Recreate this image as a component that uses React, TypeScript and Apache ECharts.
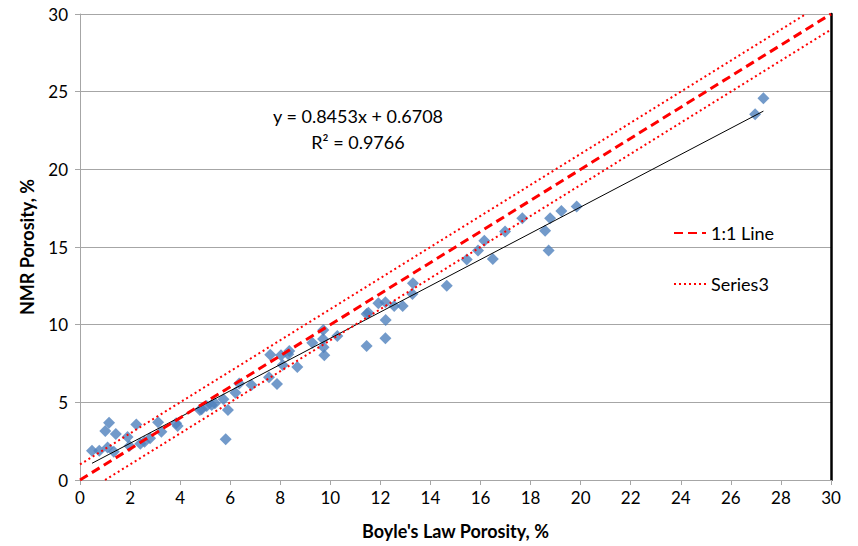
import React, { useEffect, useRef } from "react";
import * as echarts from "echarts";

const pointX = [0.48, 0.77, 1.16, 1.01, 1.1, 1.43, 1.35, 1.9, 1.98, 2.25, 2.41, 2.58, 2.8, 3.12, 3.25, 3.84, 3.9, 4.79, 4.86, 5.06, 5.26, 5.39, 5.73, 5.91, 5.82, 6.21, 6.36, 6.85, 7.55, 7.87, 7.6, 8.03, 8.1, 8.36, 8.32, 8.68, 9.28, 9.72, 9.71, 9.73, 9.76, 10.28, 11.45, 11.45, 11.52, 11.92, 12.2, 12.21, 12.2, 12.55, 12.89, 13.3, 13.28, 14.65, 15.45, 15.9, 16.15, 16.49, 16.98, 17.67, 18.58, 18.72, 18.78, 19.23, 19.84, 26.97, 27.3];
const pointY = [1.89, 1.89, 3.69, 3.15, 2.1, 2.96, 1.82, 2.77, 2.19, 3.58, 2.34, 2.47, 2.68, 3.71, 3.11, 3.65, 3.48, 4.5, 4.55, 4.76, 4.83, 4.94, 5.2, 4.5, 2.62, 5.62, 6.22, 6.12, 6.62, 6.18, 8.07, 8.03, 7.4, 8.31, 8.09, 7.28, 8.84, 9.66, 9.08, 8.54, 8.03, 9.27, 8.63, 10.69, 10.77, 11.38, 11.44, 10.3, 9.12, 11.2, 11.2, 12.67, 11.98, 12.5, 14.19, 14.77, 15.41, 14.23, 15.99, 16.85, 16.05, 14.77, 16.85, 17.32, 17.6, 23.55, 24.58];

const oneToOneX = [0, 30];
const oneToOneY = [0, 30];
const series3UpperX = [0, 29];
const series3UpperY = [1, 30];
const series3LowerX = [1, 30];
const series3LowerY = [0, 29];

const trendSlope = 0.8453;
const trendIntercept = 0.6708;
const trendRSquared = 0.9766;
const trendX = [0.48, 27.3];

const FONT = "Lato, 'Open Sans', sans-serif";

export default function App() {
  const ref = useRef<HTMLDivElement>(null);
  useEffect(() => {
    document.body.style.margin = "0";
    if (!ref.current) return;
    const chart = echarts.init(ref.current, null, { renderer: "svg" });
    const points = pointX.map((x, i) => [x, pointY[i]]);
    const trend = trendX.map((x) => [x, trendSlope * x + trendIntercept]);
    const s3 = [
      ...series3UpperX.map((x, i) => [x, series3UpperY[i]]),
      ["-", "-"],
      ...series3LowerX.map((x, i) => [x, series3LowerY[i]]),
    ];
    chart.setOption({
      animation: false,
      backgroundColor: "#ffffff",
      textStyle: { fontFamily: FONT },
      grid: { left: 80, right: 27, top: 14, bottom: 66 },
      legend: {
        orient: "vertical",
        left: 668,
        top: 219,
        itemGap: 33,
        itemWidth: 32,
        itemHeight: 18,
        itemStyle: { opacity: 0 },
        textStyle: { fontFamily: FONT, fontSize: 18, color: "#000" },
        data: ["1:1 Line", "Series3"],
      },
      xAxis: {
        type: "value",
        min: 0,
        max: 30,
        interval: 2,
        name: "Boyle's Law Porosity, %",
        nameLocation: "middle",
        nameGap: 42,
        nameTextStyle: { fontFamily: FONT, fontSize: 18, fontWeight: "bold", color: "#000" },
        axisLine: { show: true, lineStyle: { color: "#a6a6a6", width: 1 } },
        axisTick: { show: true, length: 5, lineStyle: { color: "#a6a6a6" } },
        axisLabel: { fontFamily: FONT, fontSize: 17, color: "#000", margin: 9 },
        splitLine: { show: false },
      },
      yAxis: [
        {
          type: "value",
          min: 0,
          max: 30,
          interval: 5,
          name: "NMR Porosity, %",
          nameLocation: "middle",
          nameGap: 44,
          nameTextStyle: { fontFamily: FONT, fontSize: 18, fontWeight: "bold", color: "#000" },
          axisLine: { show: true, lineStyle: { color: "#a6a6a6", width: 1 } },
          axisTick: { show: true, length: 5, lineStyle: { color: "#a6a6a6" } },
          axisLabel: { fontFamily: FONT, fontSize: 17, color: "#000", margin: 12 },
          splitLine: { show: true, lineStyle: { color: "#a6a6a6", width: 1 } },
        },
        {
          type: "value",
          min: 0,
          max: 30,
          position: "right",
          axisLine: { show: true, lineStyle: { color: "#000", width: 2.5 } },
          axisTick: { show: false },
          axisLabel: { show: false },
          splitLine: { show: false },
        },
      ],
      series: [
        {
          name: "Data",
          type: "scatter",
          symbol: "diamond",
          symbolSize: 12,
          itemStyle: { color: "#4F81BD" },
          data: points,
          z: 3,
        },
        {
          name: "Trend",
          type: "line",
          showSymbol: false,
          symbol: "none",
          lineStyle: { color: "#000", width: 1 },
          data: trend,
          z: 4,
        },
        {
          name: "1:1 Line",
          type: "line",
          symbol: "none",
          itemStyle: { color: "#ff0000" },
          lineStyle: { color: "#ff0000", width: 3, type: [9, 5] },
          data: oneToOneX.map((x, i) => [x, oneToOneY[i]]),
          z: 5,
        },
        {
          name: "Series3",
          type: "line",
          symbol: "none",
          connectNulls: false,
          itemStyle: { color: "#ff0000" },
          lineStyle: { color: "#ff0000", width: 2, type: [2, 3] },
          data: s3,
          z: 5,
        },
      ],
      graphic: [
        {
          type: "text",
          x: 358,
          y: 103,
          style: {
            text: `y = ${trendSlope}x + ${trendIntercept}\nR² = ${trendRSquared}`,
            align: "center",
            fontFamily: FONT,
            fontSize: 18,
            lineHeight: 26,
            fill: "#000",
          },
        },
      ],
    });
    return () => chart.dispose();
  }, []);
  return <div ref={ref} style={{ width: 858, height: 546 }} />;
}
